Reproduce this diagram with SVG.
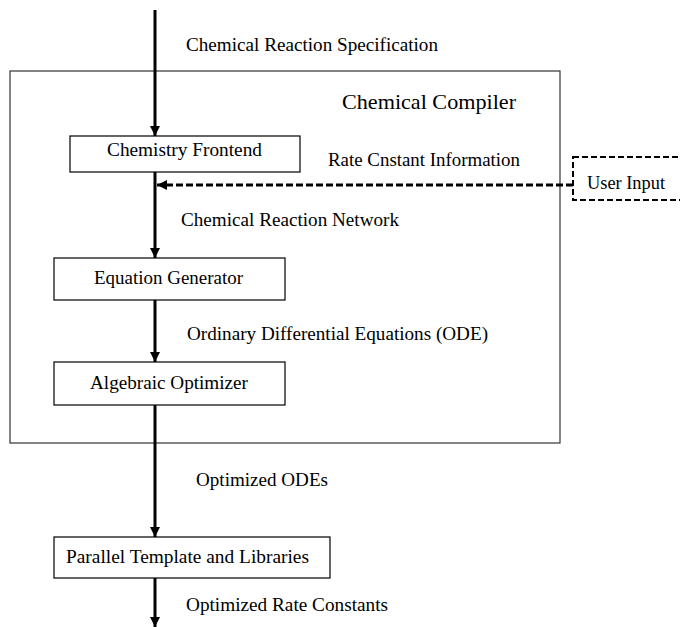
<svg xmlns="http://www.w3.org/2000/svg" width="680" height="627" viewBox="0 0 680 627">
<style>
.box{fill:#fff;stroke:#000;stroke-width:1.2}
.t{font-family:"Liberation Serif","Times New Roman",serif;font-size:18px;fill:#000}
.c{text-anchor:middle}
.arr{stroke:#000;stroke-width:3;fill:none}
.dash{stroke:#000;stroke-width:3;fill:none;stroke-dasharray:7 3}
</style>
<defs>
<marker id="ah" viewBox="0 0 10 10" refX="10" refY="5" markerWidth="10" markerHeight="10" markerUnits="userSpaceOnUse" orient="auto">
<path d="M0,0 L10,5 L0,10 z" fill="#000"/>
</marker>
</defs>
<rect width="680" height="627" fill="#fff"/>
<g id="compiler">
<rect x="10" y="71" width="550" height="372" fill="none" stroke="#333" stroke-width="1.2"/>
<text class="t" x="342" y="109" style="font-size:21px" textLength="174" lengthAdjust="spacingAndGlyphs">Chemical Compiler</text>
</g>
<g id="frontend">
<rect class="box" x="70" y="136" width="230" height="36"/>
<text class="t" x="107" y="156" textLength="155" lengthAdjust="spacingAndGlyphs">Chemistry Frontend</text>
</g>
<g id="userinput">
<rect x="573" y="157" width="120" height="43" fill="none" stroke="#000" stroke-width="2" stroke-dasharray="6 3"/>
<text class="t" x="587" y="189" textLength="78" lengthAdjust="spacingAndGlyphs">User Input</text>
</g>
<g id="eqgen">
<rect class="box" x="54" y="258" width="231" height="42"/>
<text class="t" x="94" y="284" textLength="149" lengthAdjust="spacingAndGlyphs">Equation Generator</text>
</g>
<g id="algopt">
<rect class="box" x="54" y="362" width="231" height="43"/>
<text class="t" x="90" y="389" textLength="158" lengthAdjust="spacingAndGlyphs">Algebraic Optimizer</text>
</g>
<g id="parallel">
<rect class="box" x="54" y="537" width="276" height="41"/>
<text class="t" x="66" y="563" textLength="243" lengthAdjust="spacingAndGlyphs">Parallel Template and Libraries</text>
</g>
<g id="connectors">
<line class="arr" x1="155" y1="10" x2="155" y2="136" marker-end="url(#ah)"/>
<line class="arr" x1="155" y1="172" x2="155" y2="258" marker-end="url(#ah)"/>
<line class="arr" x1="155" y1="300" x2="155" y2="362" marker-end="url(#ah)"/>
<line class="arr" x1="155" y1="405" x2="155" y2="537" marker-end="url(#ah)"/>
<line class="arr" x1="155" y1="578" x2="155" y2="627" marker-end="url(#ah)"/>
<line class="dash" x1="573" y1="185" x2="157" y2="185" marker-end="url(#ah)"/>
<text class="t" x="186" y="51" textLength="252" lengthAdjust="spacingAndGlyphs">Chemical Reaction Specification</text>
<text class="t" x="328" y="166" textLength="192" lengthAdjust="spacingAndGlyphs">Rate Cnstant Information</text>
<text class="t" x="181" y="226" textLength="218" lengthAdjust="spacingAndGlyphs">Chemical Reaction Network</text>
<text class="t" x="187" y="340" textLength="301" lengthAdjust="spacingAndGlyphs">Ordinary Differential Equations (ODE)</text>
<text class="t" x="196" y="486" textLength="132" lengthAdjust="spacingAndGlyphs">Optimized ODEs</text>
<text class="t" x="186" y="611" textLength="202" lengthAdjust="spacingAndGlyphs">Optimized Rate Constants</text>
</g>
</svg>
